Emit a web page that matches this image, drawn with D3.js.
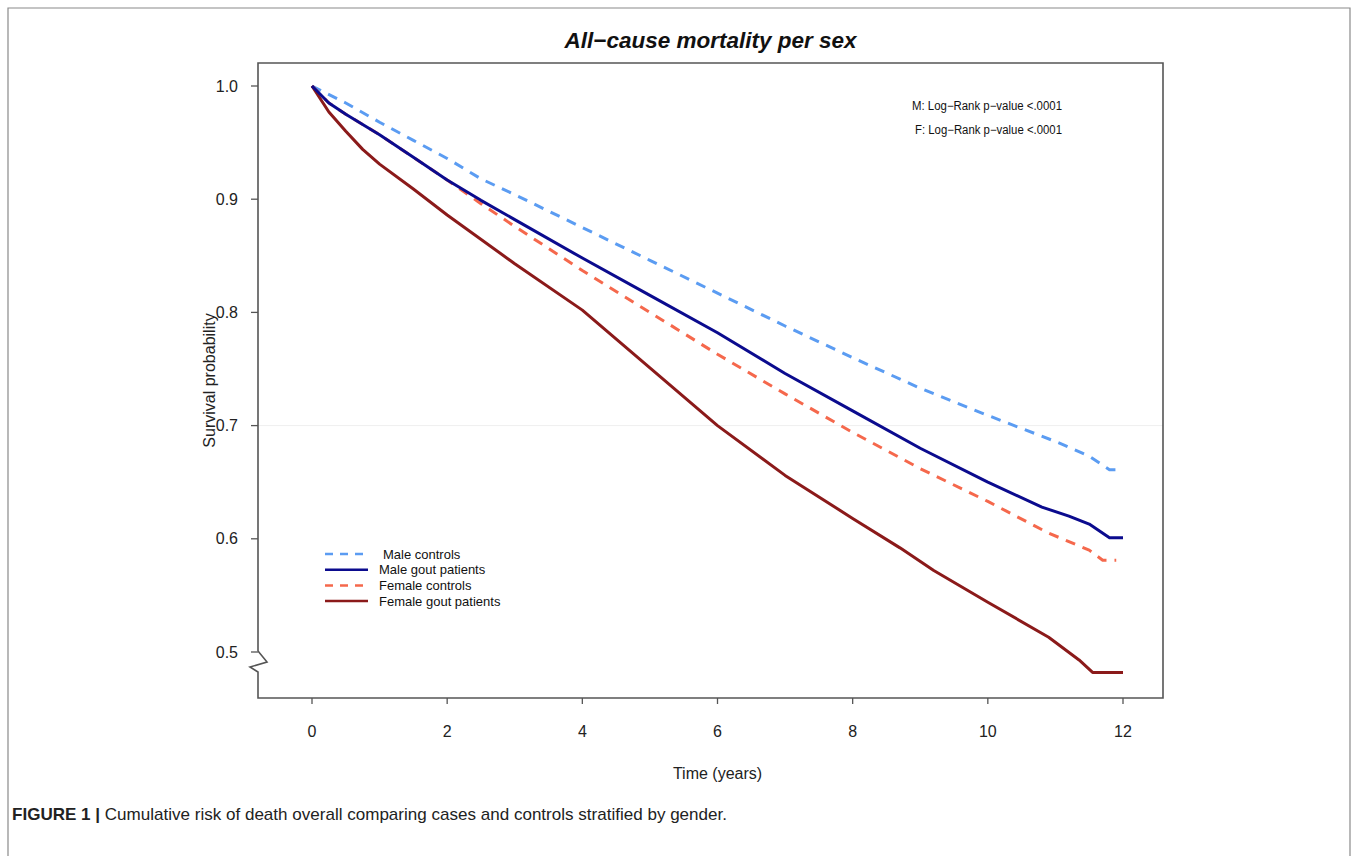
<!DOCTYPE html>
<html>
  <head>
    <meta charset="utf-8" />
    <title>All-cause mortality per sex</title>
    <script src="https://d3js.org/d3.v7.min.js"></script>
    <style>
      body { margin: 0; background: #fff; }
      svg { display: block; font-family: "Liberation Sans", Arial, sans-serif; }
    </style>
  </head>
  <body>
    <svg width="1358" height="856"></svg>

    <script>
      // Survival estimates: [time in years, survival probability]
      const maleControls = [
        [0, 1.0], [0.5, 0.985], [1, 0.968], [1.5, 0.952], [2, 0.936], [2.5, 0.918],
        [3, 0.904], [4, 0.875], [5, 0.846], [6, 0.817], [7, 0.788], [8, 0.76],
        [9, 0.733], [10, 0.709], [11, 0.686], [11.5, 0.673], [11.8, 0.661], [12, 0.661],
      ];
      const maleGout = [
        [0, 1.0], [0.25, 0.985], [0.5, 0.975], [1, 0.957], [1.5, 0.937], [2, 0.917],
        [2.5, 0.899], [3, 0.882], [4, 0.848], [5, 0.815], [6, 0.782], [7, 0.746],
        [8, 0.713], [9, 0.68], [10, 0.65], [10.8, 0.628], [11.2, 0.62], [11.5, 0.613],
        [11.8, 0.601], [12, 0.601],
      ];
      const femaleControls = [
        [0, 1.0], [0.25, 0.985], [0.5, 0.975], [1, 0.957], [1.5, 0.937], [2, 0.917],
        [2.5, 0.896], [3, 0.876], [4, 0.837], [5, 0.8], [6, 0.763], [7, 0.728],
        [8, 0.694], [9, 0.662], [10, 0.633], [10.9, 0.605], [11.5, 0.59],
        [11.7, 0.581], [11.9, 0.581],
      ];
      const femaleGout = [
        [0, 1.0], [0.25, 0.977], [0.5, 0.96], [0.75, 0.944], [1, 0.931], [1.5, 0.909],
        [2, 0.886], [3, 0.843], [4, 0.802], [5, 0.751], [6, 0.7], [7, 0.656],
        [8, 0.618], [8.7, 0.592], [9.2, 0.572], [10, 0.544], [10.9, 0.513],
        [11.35, 0.493], [11.55, 0.482], [12, 0.482],
      ];

      const seriesNames = ["Male controls", "Male gout patients", "Female controls", "Female gout patients"];
      const seriesData = [maleControls, maleGout, femaleControls, femaleGout];
      const seriesColors = ["#5b9cf2", "#0b0b8e", "#f5684c", "#8b1a1a"];
      const seriesDashed = [true, false, true, false];
      // dashed curves go underneath the solid ones
      const drawOrder = [0, 2, 3, 1];

      const xTicks = [0, 2, 4, 6, 8, 10, 12];
      const yTicks = [0.5, 0.6, 0.7, 0.8, 0.9, 1.0];
      const pValueNotes = ["M: Log\u2212Rank p\u2212value <.0001", "F: Log\u2212Rank p\u2212value <.0001"];

      const svg = d3.select("svg");

      // Outer figure frame (open at the bottom)
      svg
        .append("path")
        .attr("d", "M8,860 L8,8 L1350,8 L1350,860")
        .attr("fill", "none")
        .attr("stroke", "#8a8a8a")
        .attr("stroke-width", 1.2);

      // Plot box
      const box = { left: 258, right: 1163, top: 63, bottom: 698 };

      const x = d3.scaleLinear().domain([0, 12]).range([312, 1123]);
      const y = d3.scaleLinear().domain([0.5, 1.0]).range([652, 86]);

      // Faint reference line at 0.7
      svg
        .append("line")
        .attr("x1", box.left)
        .attr("x2", box.right)
        .attr("y1", y(0.7))
        .attr("y2", y(0.7))
        .attr("stroke", "#efefef")
        .attr("stroke-width", 1);

      // Survival curves
      const line = d3
        .line()
        .x((d) => x(d[0]))
        .y((d) => y(d[1]));

      svg
        .selectAll(".curve")
        .data(drawOrder)
        .enter()
        .append("path")
        .attr("class", "curve")
        .attr("d", (i) => line(seriesData[i]))
        .attr("fill", "none")
        .attr("stroke", (i) => seriesColors[i])
        .attr("stroke-width", 3)
        .attr("stroke-dasharray", (i) => (seriesDashed[i] ? "10,8" : null))
        .attr("stroke-linejoin", "round");

      // Frame with the broken y axis
      const frameColor = "#555";
      svg
        .append("path")
        .attr(
          "d",
          `M${box.left},${y(0.5) - 1} L${box.left + 9},${y(0.5) + 10} L${box.left - 8},${y(0.5) + 15} ` +
            `L${box.left},${y(0.5) + 20} L${box.left},${box.bottom} L${box.right},${box.bottom} ` +
            `L${box.right},${box.top} L${box.left},${box.top} L${box.left},${y(0.5) - 1}`
        )
        .attr("fill", "none")
        .attr("stroke", frameColor)
        .attr("stroke-width", 1.6);

      // Y axis ticks and labels
      const yAxis = svg.append("g");
      yAxis
        .selectAll("line")
        .data(yTicks)
        .enter()
        .append("line")
        .attr("x1", box.left - 7)
        .attr("x2", box.left)
        .attr("y1", (d) => y(d))
        .attr("y2", (d) => y(d))
        .attr("stroke", frameColor)
        .attr("stroke-width", 1.3);
      yAxis
        .selectAll("text")
        .data(yTicks)
        .enter()
        .append("text")
        .attr("x", 238)
        .attr("y", (d) => y(d))
        .attr("dy", "0.35em")
        .attr("text-anchor", "end")
        .attr("font-size", "16px")
        .attr("fill", "#222")
        .text((d) => d.toFixed(1));

      // X axis ticks and labels
      const xAxis = svg.append("g");
      xAxis
        .selectAll("line")
        .data(xTicks)
        .enter()
        .append("line")
        .attr("x1", (d) => x(d))
        .attr("x2", (d) => x(d))
        .attr("y1", box.bottom)
        .attr("y2", box.bottom + 6)
        .attr("stroke", frameColor)
        .attr("stroke-width", 1.3);
      xAxis
        .selectAll("text")
        .data(xTicks)
        .enter()
        .append("text")
        .attr("x", (d) => x(d))
        .attr("y", 737)
        .attr("text-anchor", "middle")
        .attr("font-size", "16px")
        .attr("fill", "#222")
        .text((d) => d);

      // Titles
      svg
        .append("text")
        .attr("x", (box.left + box.right) / 2)
        .attr("y", 48)
        .attr("text-anchor", "middle")
        .attr("font-size", "22px")
        .attr("font-weight", "bold")
        .attr("font-style", "italic")
        .attr("fill", "#111")
        .attr("textLength", 292)
        .attr("lengthAdjust", "spacingAndGlyphs")
        .text("All\u2212cause mortality per sex");

      svg
        .append("text")
        .attr("x", x(6))
        .attr("y", 779)
        .attr("text-anchor", "middle")
        .attr("font-size", "16px")
        .attr("fill", "#222")
        .text("Time (years)");

      svg
        .append("text")
        .attr("transform", `translate(215,${(box.top + box.bottom) / 2}) rotate(-90)`)
        .attr("text-anchor", "middle")
        .attr("font-size", "16px")
        .attr("fill", "#222")
        .text("Survival probability");

      // Log-rank notes
      svg
        .selectAll(".note")
        .data(pValueNotes)
        .enter()
        .append("text")
        .attr("class", "note")
        .attr("x", (d, i) => 912 + i * 3)
        .attr("y", (d, i) => 110 + i * 24)
        .attr("font-size", "12px")
        .attr("fill", "#111")
        .attr("textLength", (d, i) => 150 - i * 3)
        .attr("lengthAdjust", "spacingAndGlyphs")
        .text((d) => d);

      // Legend
      const legend = svg
        .selectAll(".legend")
        .data(seriesNames)
        .enter()
        .append("g")
        .attr("class", "legend")
        .attr("transform", (d, i) => `translate(325,${554 + i * 15.7})`);
      legend
        .append("line")
        .attr("x1", 0)
        .attr("x2", 43)
        .attr("stroke", (d, i) => seriesColors[i])
        .attr("stroke-width", 2.5)
        .attr("stroke-dasharray", (d, i) => (seriesDashed[i] ? "8,7" : null));
      legend
        .append("text")
        .attr("x", (d, i) => (i === 0 ? 58 : 54))
        .attr("dy", "0.35em")
        .attr("font-size", "13px")
        .attr("fill", "#111")
        .text((d) => d);

      // Caption
      const caption = svg
        .append("text")
        .attr("x", 12)
        .attr("y", 820)
        .attr("font-size", "17px")
        .attr("fill", "#222")
        .attr("textLength", 715)
        .attr("lengthAdjust", "spacingAndGlyphs");
      caption.append("tspan").attr("font-weight", "bold").text("FIGURE 1 | ");
      caption.append("tspan").text("Cumulative risk of death overall comparing cases and controls stratified by gender.");
    </script>
  </body>
</html>
